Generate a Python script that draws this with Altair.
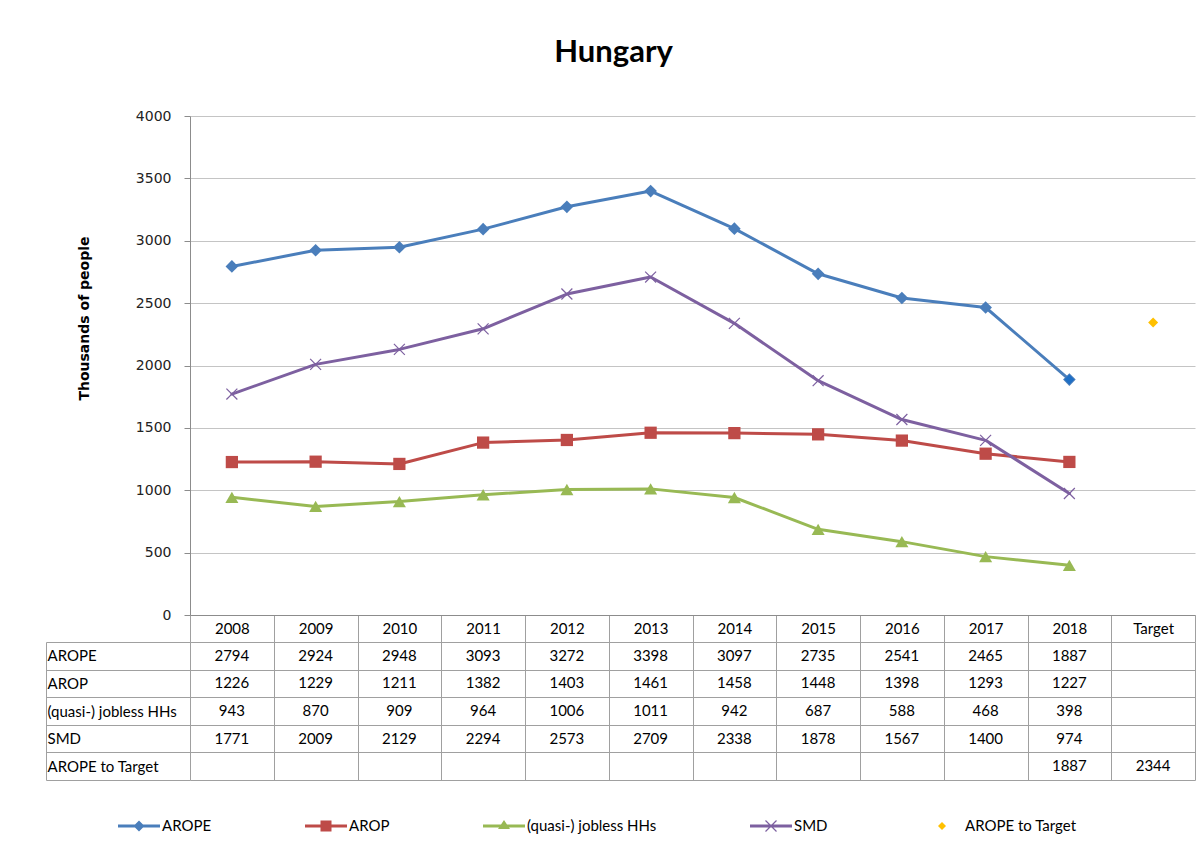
import altair as alt
import pandas as pd

# ---------------- data ----------------
chart_title = "Hungary"
y_title = "Thousands of people"
categories = ["2008", "2009", "2010", "2011", "2012", "2013", "2014",
              "2015", "2016", "2017", "2018", "Target"]
years = categories[:11]
series_names = ["AROPE", "AROP", "(quasi-) jobless HHs", "SMD", "AROPE to Target"]
arope = [2794, 2924, 2948, 3093, 3272, 3398, 3097, 2735, 2541, 2465, 1887]
arop = [1226, 1229, 1211, 1382, 1403, 1461, 1458, 1448, 1398, 1293, 1227]
jobless = [943, 870, 909, 964, 1006, 1011, 942, 687, 588, 468, 398]
smd = [1771, 2009, 2129, 2294, 2573, 2709, 2338, 1878, 1567, 1400, 974]
to_target_cats = ["2018", "Target"]
to_target_vals = [1887, 2344]
y_ticks = [0, 500, 1000, 1500, 2000, 2500, 3000, 3500, 4000]

# ---------------- tables ----------------
long_rows = []
for name, vals in zip(series_names[:4], [arope, arop, jobless, smd]):
    for c, v in zip(years, vals):
        long_rows.append({"series": name, "cat": c, "value": v})
for c, v in zip(to_target_cats, to_target_vals):
    long_rows.append({"series": "AROPE to Target", "cat": c, "value": v})
df = pd.DataFrame(long_rows)
df_table = df.rename(columns={"series": "row"}).assign(text=lambda d: d["value"].astype(str))

# ---------------- styles ----------------
COL = {"AROPE": "#4A7EBB", "AROP": "#BE4B48", "(quasi-) jobless HHs": "#98B954",
       "SMD": "#7D60A0", "AROPE to Target": "#FFC000"}
GRID = "#C4C4C4"
AXIS = "#8C8C8C"
TBL = "#A0A0A0"
XPATH = "M-1,-1L1,1M-1,1L1,-1"
W = 1005          # plot width
LABCOL = 144      # width of the table's label column


def poly(pts):
    area = sum(pts[i][0] * pts[(i + 1) % len(pts)][1] - pts[(i + 1) % len(pts)][0] * pts[i][1]
               for i in range(len(pts)))
    if area < 0:
        pts = pts[::-1]
    return "M" + "L".join(f"{x:.4f},{y:.4f}" for x, y in pts) + "Z"


U = 21.0  # px per unit of the legend symbol
lh = 1.6 / U
line_p = poly([(-1, -lh), (1, -lh), (1, lh), (-1, lh)])


def diamond(h):
    return poly([(0, -h), (h, 0), (0, h), (-h, 0)])


def square(h):
    return poly([(-h, -h), (h, -h), (h, h), (-h, h)])


def triangle(w, h):
    return poly([(0, -h * 2 / 3), (w, h / 3), (-w, h / 3)])


def bar(x0, y0, x1, y1, t):
    dx, dy = x1 - x0, y1 - y0
    n = (dx * dx + dy * dy) ** 0.5
    nx, ny = -dy / n * t, dx / n * t
    return poly([(x0 + nx, y0 + ny), (x1 + nx, y1 + ny), (x1 - nx, y1 - ny), (x0 - nx, y0 - ny)])


a = 5.5 / U
t = 0.6 / U
legend_shapes = [
    line_p + diamond(5.5 / U),
    line_p + square(5.5 / U),
    line_p + triangle(6 / U, 9 / U),
    line_p + bar(-a, -a, a, a, t) + bar(-a, a, a, -a, t),
    diamond(4 / U),
]

# ---------------- top chart ----------------
x_top = alt.X(
    "cat:N",
    scale=alt.Scale(type="band", domain=categories, paddingInner=0, paddingOuter=0),
    axis=alt.Axis(title=None, tickBand="extent", tickSize=27, tickColor=TBL,
                  labelPadding=-14, labelBaseline="middle", labelAngle=0,
                  labelFont="Lato", labelFontSize=15, labelColor="#000",
                  domainColor=AXIS, grid=False),
)
y_top = alt.Y(
    "value:Q",
    scale=alt.Scale(domain=[0, 4000]),
    axis=alt.Axis(values=y_ticks, format="d", title=y_title, titleFont="DejaVu Sans",
                  titleFontSize=14, titleFontWeight="bold", titleColor="#000",
                  titlePadding=44, titleY=202, labelFont="DejaVu Sans", labelFontSize=14,
                  labelColor="#222", labelPadding=13, tickSize=6, tickColor=AXIS,
                  domainColor=AXIS, gridColor=GRID),
)

base = alt.Chart(df)
layers = []
markers = {
    "AROPE": dict(shape="diamond", size=160, filled=True),
    "AROP": dict(shape="square", size=150, filled=True),
    "(quasi-) jobless HHs": dict(shape="triangle-up", size=170, filled=True),
    "SMD": dict(shape=XPATH, size=120, filled=False, strokeWidth=1.2),
}
for name in series_names[:4]:
    sub = base.transform_filter(alt.datum.series == name)
    layers.append(sub.mark_line(color=COL[name], strokeWidth=3, strokeJoin="round",
                                strokeCap="round").encode(x=x_top, y=y_top))
    layers.append(sub.mark_point(color=COL[name], opacity=1, **markers[name])
                  .encode(x=x_top, y=y_top))
layers.append(
    base.transform_filter(alt.datum.series == "AROPE to Target")
    .mark_point(shape="diamond", size=100, filled=True, opacity=1)
    .encode(x=x_top, y=y_top,
            color=alt.when(alt.datum.cat == "Target").then(alt.value("#FFC000"))
            .otherwise(alt.value("#1F6FC5")))
)
top = alt.layer(*layers).properties(width=W, height=499)

# ---------------- table chart ----------------
x_tb = alt.X(
    "cat:N",
    scale=alt.Scale(type="band", domain=categories, paddingInner=0, paddingOuter=0),
    axis=alt.Axis(title=None, labels=False, ticks=False, domain=False, grid=True,
                  tickBand="extent", gridColor=TBL, gridOpacity=1),
)
y_scale = alt.Scale(type="band", domain=series_names, paddingInner=0, paddingOuter=0)
y_tb = alt.Y(
    "row:N", scale=y_scale,
    axis=alt.Axis(title=None, labelAlign="left", labelBaseline="middle", labelPadding=-1,
                  tickSize=LABCOL, tickBand="extent", tickColor=TBL, domain=False,
                  grid=True, gridColor=TBL, gridOpacity=1, labelFont="Lato",
                  labelFontSize=15, labelColor="#000", labelLimit=200),
)
y_border = alt.Y(
    "row:N", scale=y_scale,
    axis=alt.Axis(orient="left", offset=LABCOL, title=None, labels=False, ticks=False,
                  grid=False, domain=True, domainColor=TBL),
)
tbl = alt.Chart(df_table)
text_layer = tbl.mark_text(font="Lato", fontSize=15, color="#000").encode(
    x=x_tb, y=y_tb, text="text:N")
border_layer = tbl.mark_text(opacity=0).encode(x=x_tb, y=y_border, text="text:N")
leg = alt.Legend(title=None, orient="none", legendX=-72, legendY=689,
                 direction="horizontal", symbolSize=U * U * 4, symbolStrokeWidth=0,
                 labelFont="Lato", labelFontSize=15, labelColor="#000", labelOffset=2,
                 columnPadding=93, labelLimit=300, padding=0)
legend_layer = tbl.transform_filter("false").mark_point(filled=True, opacity=1).encode(
    color=alt.Color("row:N", scale=alt.Scale(domain=series_names,
                                             range=[COL[s] for s in series_names]),
                    legend=leg),
    shape=alt.Shape("row:N", scale=alt.Scale(domain=series_names, range=legend_shapes),
                    legend=leg),
)
bottom = alt.layer(text_layer, border_layer, legend_layer).resolve_scale(
    y="independent").properties(width=W, height=138)

chart = alt.vconcat(
    top, bottom, spacing=27, bounds="flush",
    title=alt.Title(chart_title, font="Lato", fontSize=31, fontWeight="bold",
                    color="#000", anchor="middle", offset=40, dx=-7),
    padding={"left": 37, "top": 29, "right": 0, "bottom": 2},
    background="white",
).configure_view(strokeWidth=0)

chart.save("out.html", embed_options={"renderer": "svg", "actions": False})
